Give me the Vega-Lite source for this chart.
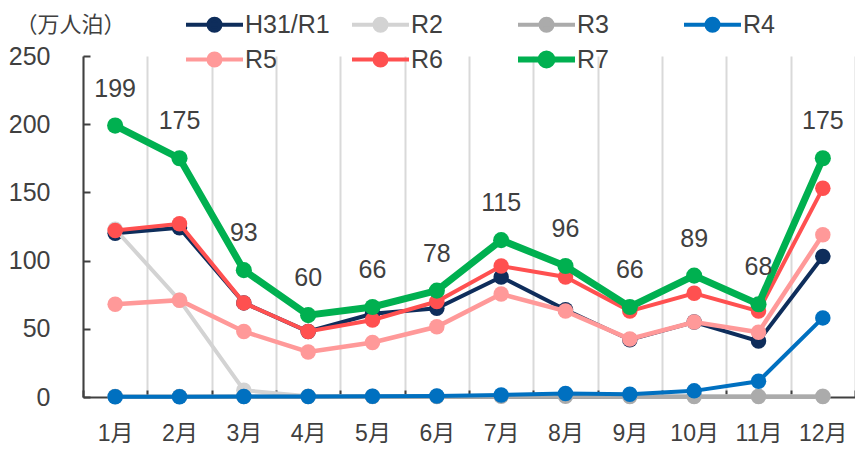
{
  "$schema": "https://vega.github.io/schema/vega-lite/v6.json",
  "width": 772,
  "height": 341,
  "autosize": {"type": "none"},
  "padding": {"left": 83, "top": 56, "right": 0, "bottom": 52},
  "background": "white",
  "config": {"view": {"stroke": null}, "font": "Liberation Sans Narrow, Liberation Sans, Noto Sans CJK JP"},
  "data": {"values": [
    {"month":"1月","series":"H31/R1","value":120},{"month":"2月","series":"H31/R1","value":124},{"month":"3月","series":"H31/R1","value":69},{"month":"4月","series":"H31/R1","value":48},{"month":"5月","series":"H31/R1","value":61},{"month":"6月","series":"H31/R1","value":65},{"month":"7月","series":"H31/R1","value":88},{"month":"8月","series":"H31/R1","value":64},{"month":"9月","series":"H31/R1","value":42},{"month":"10月","series":"H31/R1","value":55},{"month":"11月","series":"H31/R1","value":41},{"month":"12月","series":"H31/R1","value":103},
    {"month":"1月","series":"R2","value":123},{"month":"2月","series":"R2","value":71},{"month":"3月","series":"R2","value":5},{"month":"4月","series":"R2","value":0.5},{"month":"5月","series":"R2","value":0.5},{"month":"6月","series":"R2","value":0.5},{"month":"7月","series":"R2","value":1},{"month":"8月","series":"R2","value":1},{"month":"9月","series":"R2","value":0.5},{"month":"10月","series":"R2","value":0.5},{"month":"11月","series":"R2","value":0.5},{"month":"12月","series":"R2","value":0.5},
    {"month":"1月","series":"R3","value":0.3},{"month":"2月","series":"R3","value":0.3},{"month":"3月","series":"R3","value":0.3},{"month":"4月","series":"R3","value":0.3},{"month":"5月","series":"R3","value":0.3},{"month":"6月","series":"R3","value":0.3},{"month":"7月","series":"R3","value":0.5},{"month":"8月","series":"R3","value":0.5},{"month":"9月","series":"R3","value":0.3},{"month":"10月","series":"R3","value":0.3},{"month":"11月","series":"R3","value":0.3},{"month":"12月","series":"R3","value":0.3},
    {"month":"1月","series":"R4","value":0.2},{"month":"2月","series":"R4","value":0.2},{"month":"3月","series":"R4","value":0.3},{"month":"4月","series":"R4","value":0.3},{"month":"5月","series":"R4","value":0.5},{"month":"6月","series":"R4","value":0.7},{"month":"7月","series":"R4","value":1.5},{"month":"8月","series":"R4","value":2.5},{"month":"9月","series":"R4","value":2},{"month":"10月","series":"R4","value":4.5},{"month":"11月","series":"R4","value":11.5},{"month":"12月","series":"R4","value":58},
    {"month":"1月","series":"R5","value":68},{"month":"2月","series":"R5","value":71},{"month":"3月","series":"R5","value":48},{"month":"4月","series":"R5","value":33},{"month":"5月","series":"R5","value":40},{"month":"6月","series":"R5","value":51.5},{"month":"7月","series":"R5","value":75.5},{"month":"8月","series":"R5","value":63},{"month":"9月","series":"R5","value":42.5},{"month":"10月","series":"R5","value":55},{"month":"11月","series":"R5","value":47.5},{"month":"12月","series":"R5","value":119},
    {"month":"1月","series":"R6","value":122},{"month":"2月","series":"R6","value":127},{"month":"3月","series":"R6","value":69},{"month":"4月","series":"R6","value":48},{"month":"5月","series":"R6","value":56.5},{"month":"6月","series":"R6","value":70},{"month":"7月","series":"R6","value":96},{"month":"8月","series":"R6","value":88},{"month":"9月","series":"R6","value":63},{"month":"10月","series":"R6","value":76},{"month":"11月","series":"R6","value":63},{"month":"12月","series":"R6","value":153},
    {"month":"1月","series":"R7","value":199},{"month":"2月","series":"R7","value":175},{"month":"3月","series":"R7","value":93},{"month":"4月","series":"R7","value":60},{"month":"5月","series":"R7","value":66},{"month":"6月","series":"R7","value":78},{"month":"7月","series":"R7","value":115},{"month":"8月","series":"R7","value":96},{"month":"9月","series":"R7","value":66},{"month":"10月","series":"R7","value":89},{"month":"11月","series":"R7","value":68},{"month":"12月","series":"R7","value":175}
  ]},
  "encoding": {
    "x": {
      "field": "month", "type": "ordinal", "bandPosition": 0.5,
      "sort": ["1月","2月","3月","4月","5月","6月","7月","8月","9月","10月","11月","12月"],
      "scale": {"type": "band", "paddingInner": 0, "paddingOuter": 0},
      "axis": {
        "title": null, "labelAngle": 0, "tickBand": "extent",
        "grid": true, "gridColor": "#d9d9d9", "gridWidth": 2,
        "tickSize": -7, "tickColor": "#404040", "tickWidth": 2,
        "domainColor": "#404040", "domainWidth": 2,
        "labelFontSize": 23, "labelColor": "#404040", "labelPadding": 32
      }
    },
    "y": {
      "field": "value", "type": "quantitative",
      "scale": {"domain": [0, 250], "nice": false},
      "axis": {
        "values": [0, 50, 100, 150, 200, 250], "grid": false,
        "tickSize": -7, "tickColor": "#404040", "tickWidth": 2,
        "domainColor": "#404040", "domainWidth": 2,
        "labelFontSize": 25, "labelColor": "#404040", "labelPadding": 40,
        "title": "（万人泊）", "titleAngle": 0, "titleX": -13, "titleY": -32,
        "titleAlign": "center", "titleBaseline": "middle", "titleFontSize": 22,
        "titleFontWeight": "normal", "titleColor": "#404040", "titleFont": "Noto Sans CJK JP"
      }
    },
    "color": {
      "field": "series", "type": "nominal",
      "scale": {
        "domain": ["H31/R1","R2","R3","R4","R5","R6","R7"],
        "range": ["#0E2D5B","#D3D3D3","#ABABAB","#0070C0","#FF9999","#FF5050","#00B050"]
      },
      "legend": {
        "orient": "none", "legendX": 119, "legendY": -46, "direction": "horizontal",
        "columns": 4, "gridAlign": "all", "columnPadding": 10, "rowPadding": 0,
        "title": null, "padding": 0,
        "symbolType": "M-1,0H1M0.21,0A0.21,0.21,0,1,1,-0.21,0A0.21,0.21,0,1,1,0.21,0Z",
        "symbolSize": 3249, "labelFontSize": 25, "labelColor": "#404040", "labelOffset": 18,
        "encode": {"symbols": {"update": {
          "size": {"value": 3249},
          "fill": {"scale": "color", "field": "value"},
          "stroke": {"scale": "color", "field": "value"},
          "strokeWidth": {"signal": "datum.value === 'R7' ? 6 : 4"},
          "opacity": {"value": 1}, "fillOpacity": {"value": 1}, "strokeOpacity": {"value": 1}
        }}}
      }
    }
  },
  "layer": [
    {"transform": [{"filter": "datum.series === 'H31/R1'"}], "layer": [
      {"mark": {"type": "line", "strokeWidth": 4}},
      {"mark": {"type": "point", "filled": true, "size": 240, "opacity": 1}}
    ]},
    {"transform": [{"filter": "datum.series === 'R2'"}], "layer": [
      {"mark": {"type": "line", "strokeWidth": 4}},
      {"mark": {"type": "point", "filled": true, "size": 240, "opacity": 1}}
    ]},
    {"transform": [{"filter": "datum.series === 'R3'"}], "layer": [
      {"mark": {"type": "line", "strokeWidth": 4}},
      {"mark": {"type": "point", "filled": true, "size": 240, "opacity": 1}}
    ]},
    {"transform": [{"filter": "datum.series === 'R4'"}], "layer": [
      {"mark": {"type": "line", "strokeWidth": 4}},
      {"mark": {"type": "point", "filled": true, "size": 240, "opacity": 1}}
    ]},
    {"transform": [{"filter": "datum.series === 'R5'"}], "layer": [
      {"mark": {"type": "line", "strokeWidth": 4.5}},
      {"mark": {"type": "point", "filled": true, "size": 240, "opacity": 1}}
    ]},
    {"transform": [{"filter": "datum.series === 'R6'"}], "layer": [
      {"mark": {"type": "line", "strokeWidth": 4}},
      {"mark": {"type": "point", "filled": true, "size": 240, "opacity": 1}}
    ]},
    {"transform": [{"filter": "datum.series === 'R7'"}], "layer": [
      {"mark": {"type": "line", "strokeWidth": 7}},
      {"mark": {"type": "point", "filled": true, "size": 260, "opacity": 1}},
      {"mark": {"type": "text", "dy": -37, "fontSize": 25, "color": "#404040"},
       "encoding": {"text": {"field": "value", "type": "quantitative"}, "color": {"value": "#404040"}}}
    ]}
  ]
}
